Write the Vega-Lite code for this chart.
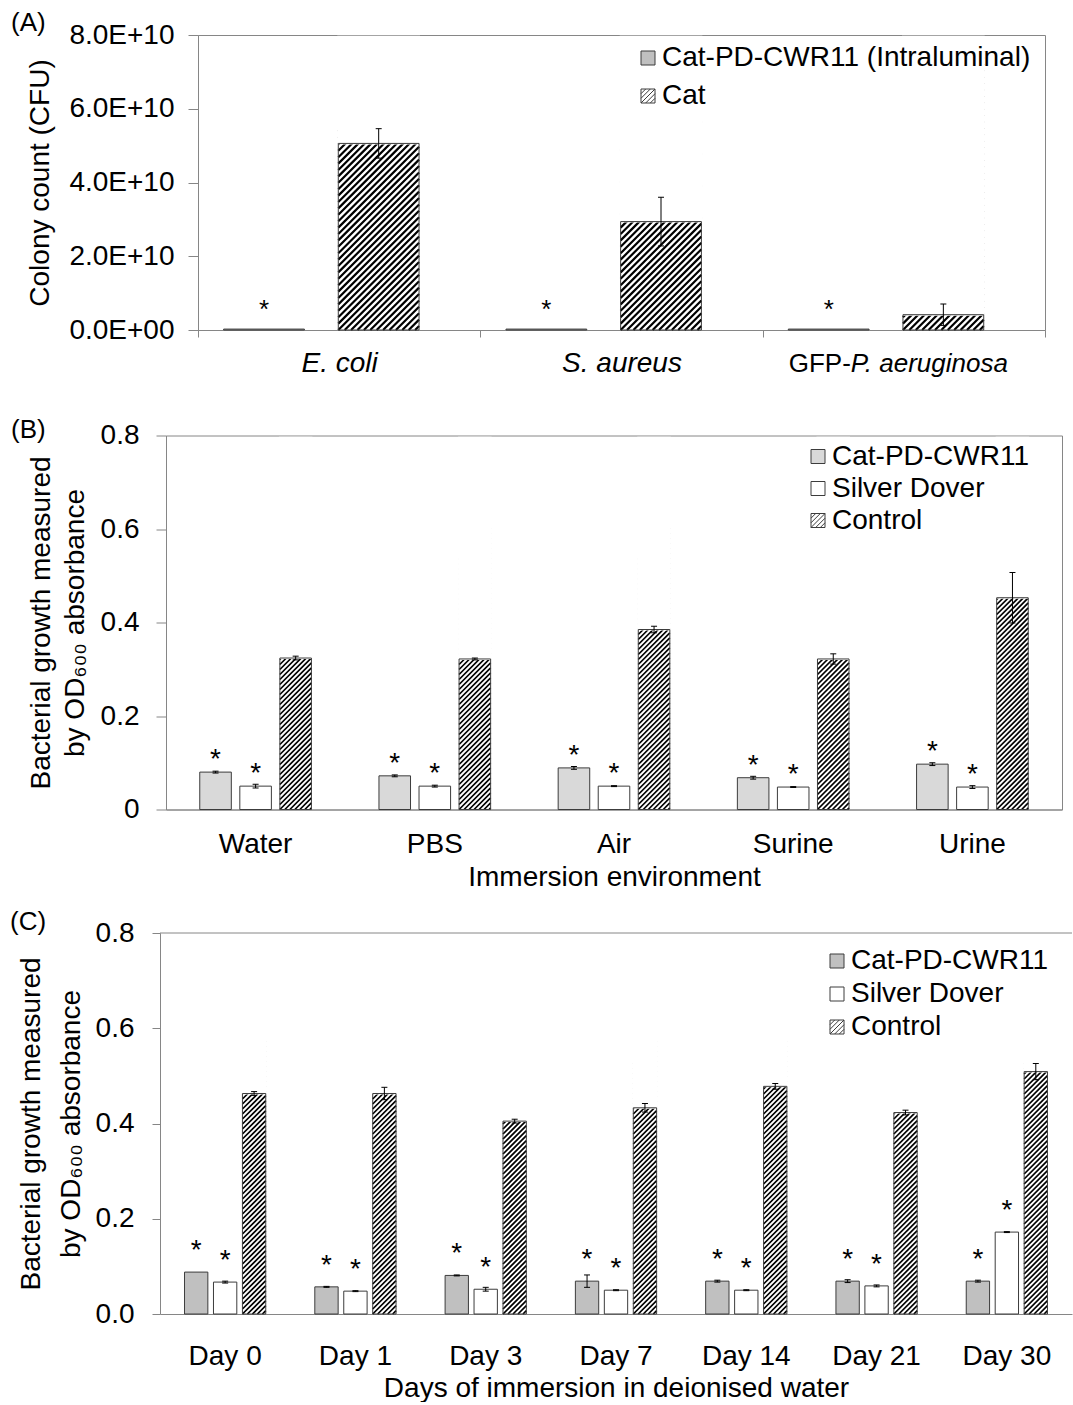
{
  "$schema": "https://vega.github.io/schema/vega-lite/v6.json",
  "background": "white",
  "padding": {"left": 9, "top": 9, "right": 0, "bottom": 0},
  "config": {
    "font": "Liberation Sans",
    "view": {"stroke": "#868686", "strokeWidth": 1},
    "axis": {
      "domainColor": "#868686", "tickColor": "#868686", "labelColor": "#000", "titleColor": "#000",
      "labelFontSize": 28, "titleFontSize": 28, "titleFontWeight": "normal", "grid": false,
      "labelFont": "Liberation Sans", "titleFont": "Liberation Sans", "labelAngle": 0
    },
    "legend": {"labelFont": "Liberation Sans", "labelFontSize": 28, "labelColor": "#000", "labelLimit": 800},
    "title": {"fontSize": 26, "fontWeight": "normal", "color": "#000", "anchor": "start", "frame": "group", "baseline": "bottom", "offset": 0, "font": "Liberation Sans"}
  },
  "datasets": {
    "intraluminal": [
      {"organism": "E. coli", "sample": "Cat-PD-CWR11 (Intraluminal)", "value": 2.5e8, "sd": 0},
      {"organism": "E. coli", "sample": "Cat", "value": 5.06e10, "sd": 0.4e10},
      {"organism": "S. aureus", "sample": "Cat-PD-CWR11 (Intraluminal)", "value": 2.5e8, "sd": 0},
      {"organism": "S. aureus", "sample": "Cat", "value": 2.94e10, "sd": 0.66e10},
      {"organism": "GFP-P. aeruginosa", "sample": "Cat-PD-CWR11 (Intraluminal)", "value": 2.5e8, "sd": 0},
      {"organism": "GFP-P. aeruginosa", "sample": "Cat", "value": 0.415e10, "sd": 0.29e10}
    ],
    "immersion": [
      {"environment": "Water", "sample": "Cat-PD-CWR11", "value": 0.080, "sd": 0.002},
      {"environment": "Water", "sample": "Silver Dover", "value": 0.050, "sd": 0.004},
      {"environment": "Water", "sample": "Control", "value": 0.324, "sd": 0.004},
      {"environment": "PBS", "sample": "Cat-PD-CWR11", "value": 0.072, "sd": 0.002},
      {"environment": "PBS", "sample": "Silver Dover", "value": 0.050, "sd": 0.002},
      {"environment": "PBS", "sample": "Control", "value": 0.322, "sd": 0.002},
      {"environment": "Air", "sample": "Cat-PD-CWR11", "value": 0.089, "sd": 0.003},
      {"environment": "Air", "sample": "Silver Dover", "value": 0.050, "sd": 0.001},
      {"environment": "Air", "sample": "Control", "value": 0.385, "sd": 0.007},
      {"environment": "Surine", "sample": "Cat-PD-CWR11", "value": 0.068, "sd": 0.003},
      {"environment": "Surine", "sample": "Silver Dover", "value": 0.048, "sd": 0.001},
      {"environment": "Surine", "sample": "Control", "value": 0.322, "sd": 0.011},
      {"environment": "Urine", "sample": "Cat-PD-CWR11", "value": 0.097, "sd": 0.003},
      {"environment": "Urine", "sample": "Silver Dover", "value": 0.048, "sd": 0.003},
      {"environment": "Urine", "sample": "Control", "value": 0.453, "sd": 0.054}
    ],
    "days": [
      {"day": "Day 0", "sample": "Cat-PD-CWR11", "value": 0.088, "sd": 0},
      {"day": "Day 0", "sample": "Silver Dover", "value": 0.067, "sd": 0.002},
      {"day": "Day 0", "sample": "Control", "value": 0.463, "sd": 0.004},
      {"day": "Day 1", "sample": "Cat-PD-CWR11", "value": 0.057, "sd": 0.001},
      {"day": "Day 1", "sample": "Silver Dover", "value": 0.048, "sd": 0.001},
      {"day": "Day 1", "sample": "Control", "value": 0.463, "sd": 0.013},
      {"day": "Day 3", "sample": "Cat-PD-CWR11", "value": 0.081, "sd": 0.001},
      {"day": "Day 3", "sample": "Silver Dover", "value": 0.052, "sd": 0.004},
      {"day": "Day 3", "sample": "Control", "value": 0.405, "sd": 0.004},
      {"day": "Day 7", "sample": "Cat-PD-CWR11", "value": 0.069, "sd": 0.013},
      {"day": "Day 7", "sample": "Silver Dover", "value": 0.050, "sd": 0.001},
      {"day": "Day 7", "sample": "Control", "value": 0.433, "sd": 0.009},
      {"day": "Day 14", "sample": "Cat-PD-CWR11", "value": 0.069, "sd": 0.002},
      {"day": "Day 14", "sample": "Silver Dover", "value": 0.050, "sd": 0.001},
      {"day": "Day 14", "sample": "Control", "value": 0.478, "sd": 0.006},
      {"day": "Day 21", "sample": "Cat-PD-CWR11", "value": 0.069, "sd": 0.003},
      {"day": "Day 21", "sample": "Silver Dover", "value": 0.059, "sd": 0.002},
      {"day": "Day 21", "sample": "Control", "value": 0.423, "sd": 0.005},
      {"day": "Day 30", "sample": "Cat-PD-CWR11", "value": 0.069, "sd": 0.002},
      {"day": "Day 30", "sample": "Silver Dover", "value": 0.172, "sd": 0.001},
      {"day": "Day 30", "sample": "Control", "value": 0.509, "sd": 0.017}
    ]
  },
  "columns": 1,
  "spacing": 16.5,
  "resolve": {"scale": {"fill": "independent", "xOffset": "independent"}, "legend": {"fill": "independent"}},
  "concat": [
    {"spacing": 0, "hconcat": [
    {"width": 1, "height": 1, "view": {"stroke": null}, "data": {"name": "intraluminal"}, "transform": [{"filter": "false"}], "mark": "point"},
    {
      "width": 847,
      "height": 295,
      "title": {"text": "(A)", "dx": -187, "dy": 19},
      "data": {"name": "intraluminal"},
      "transform": [
        {"calculate": "datum.value - datum.sd", "as": "lo"},
        {"calculate": "datum.value + datum.sd", "as": "hi"}
      ],
      "layer": [
        {
          "transform": [{"filter": "datum.sample === 'Cat'"}],
          "mark": {"type": "point", "size": 4, "filled": false, "stroke": "#000", "strokeWidth": 2.2, "opacity": 1,
            "shape": "M-40.39,0l80.78,-80.78m-80.78,74.38l80.78,-80.78m-80.78,74.38l80.78,-80.78m-80.78,74.38l80.78,-80.78m-80.78,74.38l80.78,-80.78m-80.78,74.38l80.78,-80.78m-80.78,74.38l80.78,-80.78m-80.78,74.38l80.78,-80.78m-80.78,74.38l80.78,-80.78m-80.78,74.38l80.78,-80.78m-80.78,74.38l80.78,-80.78m-80.78,74.38l80.78,-80.78m-80.78,74.38l80.78,-80.78m-80.78,74.38l80.78,-80.78m-80.78,74.38l80.78,-80.78m-80.78,74.38l80.78,-80.78m-80.78,74.38l80.78,-80.78m-80.78,74.38l80.78,-80.78m-80.78,74.38l80.78,-80.78m-80.78,74.38l80.78,-80.78m-80.78,74.38l80.78,-80.78m-80.78,74.38l80.78,-80.78m-80.78,74.38l80.78,-80.78m-80.78,74.38l80.78,-80.78m-80.78,74.38l80.78,-80.78m-80.78,74.38l80.78,-80.78m-80.78,74.38l80.78,-80.78m-80.78,74.38l80.78,-80.78m-80.78,74.38l80.78,-80.78m-80.78,74.38l80.78,-80.78m-80.78,74.38l80.78,-80.78m-80.78,74.38l80.78,-80.78M-33.99,0L40.39,-74.38M-27.59,0L40.39,-67.98M-21.19,0L40.39,-61.58M-14.79,0L40.39,-55.18M-8.39,0L40.39,-48.78M-1.99,0L40.39,-42.38M4.41,0L40.39,-35.98M10.81,0L40.39,-29.58M17.21,0L40.39,-23.18M23.61,0L40.39,-16.78M30.01,0L40.39,-10.38M36.41,0L40.39,-3.98"},
          "encoding": {
            "x": {"field": "organism", "type": "nominal"},
            "xOffset": {"field": "sample", "type": "nominal"},
            "y": {"datum": 0, "type": "quantitative"}
          }
        },
        {
          "transform": [{"filter": "datum.sample === 'Cat'"}],
          "mark": {"type": "bar", "fill": "white", "stroke": "white", "strokeWidth": 2, "opacity": 1},
          "encoding": {
            "x": {"field": "organism", "type": "nominal"},
            "xOffset": {"field": "sample", "type": "nominal"},
            "y": {"field": "value", "type": "quantitative"},
            "y2": {"datum": 7.95e10}
          }
        },
        {
          "mark": {"type": "bar", "stroke": "#3c3c3c", "strokeWidth": 1, "opacity": 1},
          "encoding": {
            "x": {
              "field": "organism", "type": "nominal",
              "scale": {"domain": ["E. coli", "S. aureus", "GFP-P. aeruginosa"], "paddingInner": 0, "paddingOuter": 0},
              "axis": {"title": null, "tickBand": "extent", "tickSize": 7, "labelPadding": 12, "labelFontStyle": "italic", "minExtent": 68.5,
                "labelExpr": "datum.value === 'GFP-P. aeruginosa' ? '' : datum.value"}
            },
            "xOffset": {
              "field": "sample", "type": "nominal",
              "scale": {"domain": ["Cat-PD-CWR11 (Intraluminal)", "Cat"], "paddingInner": 0.2956, "paddingOuter": 0.379, "align": 0.295}
            },
            "y": {
              "field": "value", "type": "quantitative", "stack": null,
              "scale": {"domain": [0, 8e10], "nice": false},
              "axis": {"title": "Colony count (CFU)", "values": [0, 2e10, 4e10, 6e10, 8e10], "tickSize": 10, "labelPadding": 14, "titlePadding": 14,
                "labelExpr": "datum.value === 0 ? '0.0E+00' : upper(format(datum.value, '.1e'))"}
            },
            "fill": {
              "field": "sample", "type": "nominal",
              "scale": {"domain": ["Cat-PD-CWR11 (Intraluminal)", "Cat"], "range": ["#c0c0c0", "transparent"]},
              "legend": {
                "title": null, "orient": "none", "legendX": 625, "legendY": 9, "direction": "vertical",
                "symbolSize": 196, "symbolStrokeColor": "#3c3c3c", "symbolStrokeWidth": 1,
                "symbolType": {"expr": "datum.value === 'Cat' ? 'M-1,-1H1V1H-1ZM-1,-0.33L-0.33,-1M-1,0.33L0.33,-1M-1,1L1,-1M-0.33,1L1,-0.33M0.33,1L1,0.33' : 'square'"},
                "labelOffset": 0, "rowPadding": 10, "padding": 0, "zindex": 1
              }
            }
          }
        },
        {
          "transform": [{"filter": "datum.sd > 0"}],
          "mark": {"type": "rule", "color": "#000", "strokeWidth": 1, "opacity": 1},
          "encoding": {
            "x": {"field": "organism", "type": "nominal"},
            "xOffset": {"field": "sample", "type": "nominal"},
            "y": {"field": "lo", "type": "quantitative"},
            "y2": {"field": "hi"}
          }
        },
        {
          "transform": [{"filter": "datum.sd > 0"}],
          "mark": {"type": "tick", "color": "#000", "thickness": 1, "size": 6, "opacity": 1},
          "encoding": {
            "x": {"field": "organism", "type": "nominal"},
            "xOffset": {"field": "sample", "type": "nominal"},
            "y": {"field": "hi", "type": "quantitative"}
          }
        },
        {
          "transform": [{"filter": "datum.sd > 0"}],
          "mark": {"type": "tick", "color": "#000", "thickness": 1, "size": 6, "opacity": 1},
          "encoding": {
            "x": {"field": "organism", "type": "nominal"},
            "xOffset": {"field": "sample", "type": "nominal"},
            "y": {"field": "lo", "type": "quantitative"}
          }
        },
        {
          "transform": [{"filter": "datum.sample !== 'Cat'"}],
          "mark": {"type": "text", "text": "*", "fontSize": 26, "baseline": "alphabetic", "dy": -11, "color": "#000"},
          "encoding": {
            "x": {"field": "organism", "type": "nominal"},
            "xOffset": {"field": "sample", "type": "nominal"},
            "y": {"field": "value", "type": "quantitative"}
          }
        },
        {
          "transform": [{"filter": "datum.organism === 'GFP-P. aeruginosa' && datum.sample === 'Cat'"}],
          "mark": {"type": "text", "text": "GFP-", "fontSize": 26, "align": "right", "baseline": "alphabetic", "dx": -53, "dy": 42, "color": "#000"},
          "encoding": {
            "x": {"field": "organism", "type": "nominal"},
            "y": {"datum": 0, "type": "quantitative"}
          }
        },
        {
          "transform": [{"filter": "datum.organism === 'GFP-P. aeruginosa' && datum.sample === 'Cat'"}],
          "mark": {"type": "text", "text": "P. aeruginosa", "fontSize": 26, "fontStyle": "italic", "align": "left", "baseline": "alphabetic", "dx": -53, "dy": 42, "color": "#000"},
          "encoding": {
            "x": {"field": "organism", "type": "nominal"},
            "y": {"datum": 0, "type": "quantitative"}
          }
        }
      ]
    }
    ]},
    {"spacing": 0, "hconcat": [
    {"width": 1, "height": 1, "view": {"stroke": null}, "data": {"name": "immersion"}, "transform": [{"filter": "false"}], "mark": "point"},
    {
      "width": 896,
      "height": 374,
      "title": {"text": "(B)", "dx": -155, "dy": 25},
      "data": {"name": "immersion"},
      "transform": [
        {"calculate": "datum.value - datum.sd", "as": "lo"},
        {"calculate": "datum.value + datum.sd", "as": "hi"}
      ],
      "layer": [
        {
          "transform": [{"filter": "datum.sample === 'Control'"}],
          "mark": {"type": "point", "size": 4, "filled": false, "stroke": "#000", "strokeWidth": 1.7, "opacity": 1,
            "shape": "M-15.78,0l31.56,-31.56m-31.56,26.56l31.56,-31.56m-31.56,26.56l31.56,-31.56m-31.56,26.56l31.56,-31.56m-31.56,26.56l31.56,-31.56m-31.56,26.56l31.56,-31.56m-31.56,26.56l31.56,-31.56m-31.56,26.56l31.56,-31.56m-31.56,26.56l31.56,-31.56m-31.56,26.56l31.56,-31.56m-31.56,26.56l31.56,-31.56m-31.56,26.56l31.56,-31.56m-31.56,26.56l31.56,-31.56m-31.56,26.56l31.56,-31.56m-31.56,26.56l31.56,-31.56m-31.56,26.56l31.56,-31.56m-31.56,26.56l31.56,-31.56m-31.56,26.56l31.56,-31.56m-31.56,26.56l31.56,-31.56m-31.56,26.56l31.56,-31.56m-31.56,26.56l31.56,-31.56m-31.56,26.56l31.56,-31.56m-31.56,26.56l31.56,-31.56m-31.56,26.56l31.56,-31.56m-31.56,26.56l31.56,-31.56m-31.56,26.56l31.56,-31.56m-31.56,26.56l31.56,-31.56m-31.56,26.56l31.56,-31.56m-31.56,26.56l31.56,-31.56m-31.56,26.56l31.56,-31.56m-31.56,26.56l31.56,-31.56m-31.56,26.56l31.56,-31.56m-31.56,26.56l31.56,-31.56m-31.56,26.56l31.56,-31.56m-31.56,26.56l31.56,-31.56m-31.56,26.56l31.56,-31.56m-31.56,26.56l31.56,-31.56m-31.56,26.56l31.56,-31.56m-31.56,26.56l31.56,-31.56m-31.56,26.56l31.56,-31.56m-31.56,26.56l31.56,-31.56m-31.56,26.56l31.56,-31.56m-31.56,26.56l31.56,-31.56m-31.56,26.56l31.56,-31.56m-31.56,26.56l31.56,-31.56m-31.56,26.56l31.56,-31.56m-31.56,26.56l31.56,-31.56m-31.56,26.56l31.56,-31.56m-31.56,26.56l31.56,-31.56m-31.56,26.56l31.56,-31.56m-31.56,26.56l31.56,-31.56M-10.78,0L15.78,-26.56M-5.78,0L15.78,-21.56M-0.78,0L15.78,-16.56M4.22,0L15.78,-11.56M9.22,0L15.78,-6.56M14.22,0L15.78,-1.56"},
          "encoding": {
            "x": {"field": "environment", "type": "nominal"},
            "xOffset": {"field": "sample", "type": "nominal"},
            "y": {"datum": 0, "type": "quantitative"}
          }
        },
        {
          "transform": [{"filter": "datum.sample === 'Control'"}],
          "mark": {"type": "bar", "fill": "white", "stroke": "white", "strokeWidth": 2, "opacity": 1},
          "encoding": {
            "x": {"field": "environment", "type": "nominal"},
            "xOffset": {"field": "sample", "type": "nominal"},
            "y": {"field": "value", "type": "quantitative"},
            "y2": {"datum": 0.795}
          }
        },
        {
          "mark": {"type": "bar", "stroke": "#3c3c3c", "strokeWidth": 1, "opacity": 1},
          "encoding": {
            "x": {
              "field": "environment", "type": "nominal",
              "scale": {"domain": ["Water", "PBS", "Air", "Surine", "Urine"], "paddingInner": 0, "paddingOuter": 0},
              "axis": {"title": "Immersion environment", "ticks": false, "tickSize": 0, "labelPadding": 21, "titlePadding": 5}
            },
            "xOffset": {
              "field": "sample", "type": "nominal",
              "scale": {"domain": ["Cat-PD-CWR11", "Silver Dover", "Control"], "paddingInner": 0.212, "paddingOuter": 0.843}
            },
            "y": {
              "field": "value", "type": "quantitative", "stack": null,
              "scale": {"domain": [0, 0.8], "nice": false},
              "axis": {"title": ["Bacterial growth measured", "by OD₆₀₀ absorbance"], "values": [0, 0.2, 0.4, 0.6, 0.8], "format": ".1~f",
                "tickSize": 10, "labelPadding": 17, "titlePadding": 11, "titleLineHeight": 34}
            },
            "fill": {
              "field": "sample", "type": "nominal",
              "scale": {"domain": ["Cat-PD-CWR11", "Silver Dover", "Control"], "range": ["#d9d9d9", "#ffffff", "transparent"]},
              "legend": {
                "title": null, "orient": "none", "legendX": 795, "legendY": 7, "direction": "vertical",
                "symbolSize": 196, "symbolStrokeColor": "#3c3c3c", "symbolStrokeWidth": 1,
                "symbolType": {"expr": "datum.value === 'Control' ? 'M-1,-1H1V1H-1ZM-1,-0.33L-0.33,-1M-1,0.33L0.33,-1M-1,1L1,-1M-0.33,1L1,-0.33M0.33,1L1,0.33' : 'square'"},
                "labelOffset": 0, "rowPadding": 4, "padding": 0, "zindex": 1
              }
            }
          }
        },
        {
          "transform": [{"filter": "datum.sd > 0"}],
          "mark": {"type": "rule", "color": "#000", "strokeWidth": 1, "opacity": 1},
          "encoding": {
            "x": {"field": "environment", "type": "nominal"},
            "xOffset": {"field": "sample", "type": "nominal"},
            "y": {"field": "lo", "type": "quantitative"},
            "y2": {"field": "hi"}
          }
        },
        {
          "transform": [{"filter": "datum.sd > 0"}],
          "mark": {"type": "tick", "color": "#000", "thickness": 1, "size": 6, "opacity": 1},
          "encoding": {
            "x": {"field": "environment", "type": "nominal"},
            "xOffset": {"field": "sample", "type": "nominal"},
            "y": {"field": "hi", "type": "quantitative"}
          }
        },
        {
          "transform": [{"filter": "datum.sd > 0"}],
          "mark": {"type": "tick", "color": "#000", "thickness": 1, "size": 6, "opacity": 1},
          "encoding": {
            "x": {"field": "environment", "type": "nominal"},
            "xOffset": {"field": "sample", "type": "nominal"},
            "y": {"field": "lo", "type": "quantitative"}
          }
        },
        {
          "transform": [{"filter": "datum.sample !== 'Control'"}],
          "mark": {"type": "text", "text": "*", "fontSize": 28, "baseline": "alphabetic", "dy": -4, "color": "#000"},
          "encoding": {
            "x": {"field": "environment", "type": "nominal"},
            "xOffset": {"field": "sample", "type": "nominal"},
            "y": {"field": "value", "type": "quantitative"}
          }
        }
      ]
    }
    ]},
    {"spacing": 0, "hconcat": [
    {"width": 1, "height": 1, "view": {"stroke": null}, "data": {"name": "days"}, "transform": [{"filter": "false"}], "mark": "point"},
    {
      "width": 912,
      "height": 381,
      "view": {"stroke": null},
      "title": {"text": "(C)", "dx": -150, "dy": 20},
      "data": {"name": "days"},
      "transform": [
        {"calculate": "datum.value - datum.sd", "as": "lo"},
        {"calculate": "datum.value + datum.sd", "as": "hi"}
      ],
      "layer": [
        {
          "transform": [{"filter": "datum.day === 'Day 0' && datum.sample === 'Control'"}],
          "mark": {"type": "rule", "color": "#868686", "strokeWidth": 1},
          "encoding": {"y": {"datum": 0.8, "type": "quantitative"}}
        },
        {
          "transform": [{"filter": "datum.sample === 'Control'"}],
          "mark": {"type": "point", "size": 4, "filled": false, "stroke": "#000", "strokeWidth": 1.7, "opacity": 1,
            "shape": "M-11.67,0l23.34,-23.34m-23.34,18.34l23.34,-23.34m-23.34,18.34l23.34,-23.34m-23.34,18.34l23.34,-23.34m-23.34,18.34l23.34,-23.34m-23.34,18.34l23.34,-23.34m-23.34,18.34l23.34,-23.34m-23.34,18.34l23.34,-23.34m-23.34,18.34l23.34,-23.34m-23.34,18.34l23.34,-23.34m-23.34,18.34l23.34,-23.34m-23.34,18.34l23.34,-23.34m-23.34,18.34l23.34,-23.34m-23.34,18.34l23.34,-23.34m-23.34,18.34l23.34,-23.34m-23.34,18.34l23.34,-23.34m-23.34,18.34l23.34,-23.34m-23.34,18.34l23.34,-23.34m-23.34,18.34l23.34,-23.34m-23.34,18.34l23.34,-23.34m-23.34,18.34l23.34,-23.34m-23.34,18.34l23.34,-23.34m-23.34,18.34l23.34,-23.34m-23.34,18.34l23.34,-23.34m-23.34,18.34l23.34,-23.34m-23.34,18.34l23.34,-23.34m-23.34,18.34l23.34,-23.34m-23.34,18.34l23.34,-23.34m-23.34,18.34l23.34,-23.34m-23.34,18.34l23.34,-23.34m-23.34,18.34l23.34,-23.34m-23.34,18.34l23.34,-23.34m-23.34,18.34l23.34,-23.34m-23.34,18.34l23.34,-23.34m-23.34,18.34l23.34,-23.34m-23.34,18.34l23.34,-23.34m-23.34,18.34l23.34,-23.34m-23.34,18.34l23.34,-23.34m-23.34,18.34l23.34,-23.34m-23.34,18.34l23.34,-23.34m-23.34,18.34l23.34,-23.34m-23.34,18.34l23.34,-23.34m-23.34,18.34l23.34,-23.34m-23.34,18.34l23.34,-23.34m-23.34,18.34l23.34,-23.34m-23.34,18.34l23.34,-23.34m-23.34,18.34l23.34,-23.34m-23.34,18.34l23.34,-23.34m-23.34,18.34l23.34,-23.34m-23.34,18.34l23.34,-23.34m-23.34,18.34l23.34,-23.34M-6.67,0L11.67,-18.34M-1.67,0L11.67,-13.34M3.33,0L11.67,-8.34M8.33,0L11.67,-3.34"},
          "encoding": {
            "x": {"field": "day", "type": "nominal"},
            "xOffset": {"field": "sample", "type": "nominal"},
            "y": {"datum": 0, "type": "quantitative"}
          }
        },
        {
          "transform": [{"filter": "datum.sample === 'Control'"}],
          "mark": {"type": "bar", "fill": "white", "stroke": "white", "strokeWidth": 2, "opacity": 1},
          "encoding": {
            "x": {"field": "day", "type": "nominal"},
            "xOffset": {"field": "sample", "type": "nominal"},
            "y": {"field": "value", "type": "quantitative"},
            "y2": {"datum": 0.795}
          }
        },
        {
          "mark": {"type": "bar", "stroke": "#3c3c3c", "strokeWidth": 1, "opacity": 1},
          "encoding": {
            "x": {
              "field": "day", "type": "nominal",
              "scale": {"domain": ["Day 0", "Day 1", "Day 3", "Day 7", "Day 14", "Day 21", "Day 30"], "paddingInner": 0, "paddingOuter": 0},
              "axis": {"title": "Days of immersion in deionised water", "ticks": false, "tickSize": 0, "labelPadding": 28, "titlePadding": 4}
            },
            "xOffset": {
              "field": "sample", "type": "nominal",
              "scale": {"domain": ["Cat-PD-CWR11", "Silver Dover", "Control"], "paddingInner": 0.194, "paddingOuter": 0.847}
            },
            "y": {
              "field": "value", "type": "quantitative", "stack": null,
              "scale": {"domain": [0, 0.8], "nice": false},
              "axis": {"title": ["Bacterial growth measured", "by OD₆₀₀ absorbance"], "values": [0, 0.2, 0.4, 0.6, 0.8], "format": ".1f",
                "tickSize": 8, "labelPadding": 18, "titlePadding": 10, "titleLineHeight": 40}
            },
            "fill": {
              "field": "sample", "type": "nominal",
              "scale": {"domain": ["Cat-PD-CWR11", "Silver Dover", "Control"], "range": ["#c0c0c0", "#ffffff", "transparent"]},
              "legend": {
                "title": null, "orient": "none", "legendX": 814, "legendY": 14, "direction": "vertical",
                "symbolSize": 196, "symbolStrokeColor": "#3c3c3c", "symbolStrokeWidth": 1,
                "symbolType": {"expr": "datum.value === 'Control' ? 'M-1,-1H1V1H-1ZM-1,-0.33L-0.33,-1M-1,0.33L0.33,-1M-1,1L1,-1M-0.33,1L1,-0.33M0.33,1L1,0.33' : 'square'"},
                "labelOffset": 0, "rowPadding": 5, "padding": 0, "zindex": 1
              }
            }
          }
        },
        {
          "transform": [{"filter": "datum.sd > 0"}],
          "mark": {"type": "rule", "color": "#000", "strokeWidth": 1, "opacity": 1},
          "encoding": {
            "x": {"field": "day", "type": "nominal"},
            "xOffset": {"field": "sample", "type": "nominal"},
            "y": {"field": "lo", "type": "quantitative"},
            "y2": {"field": "hi"}
          }
        },
        {
          "transform": [{"filter": "datum.sd > 0"}],
          "mark": {"type": "tick", "color": "#000", "thickness": 1, "size": 6, "opacity": 1},
          "encoding": {
            "x": {"field": "day", "type": "nominal"},
            "xOffset": {"field": "sample", "type": "nominal"},
            "y": {"field": "hi", "type": "quantitative"}
          }
        },
        {
          "transform": [{"filter": "datum.sd > 0"}],
          "mark": {"type": "tick", "color": "#000", "thickness": 1, "size": 6, "opacity": 1},
          "encoding": {
            "x": {"field": "day", "type": "nominal"},
            "xOffset": {"field": "sample", "type": "nominal"},
            "y": {"field": "lo", "type": "quantitative"}
          }
        },
        {
          "transform": [{"filter": "datum.sample !== 'Control'"}],
          "mark": {"type": "text", "text": "*", "fontSize": 28, "baseline": "alphabetic", "dy": -13, "color": "#000"},
          "encoding": {
            "x": {"field": "day", "type": "nominal"},
            "xOffset": {"field": "sample", "type": "nominal"},
            "y": {"field": "value", "type": "quantitative"}
          }
        }
      ]
    }
    ]}
  ]
}
